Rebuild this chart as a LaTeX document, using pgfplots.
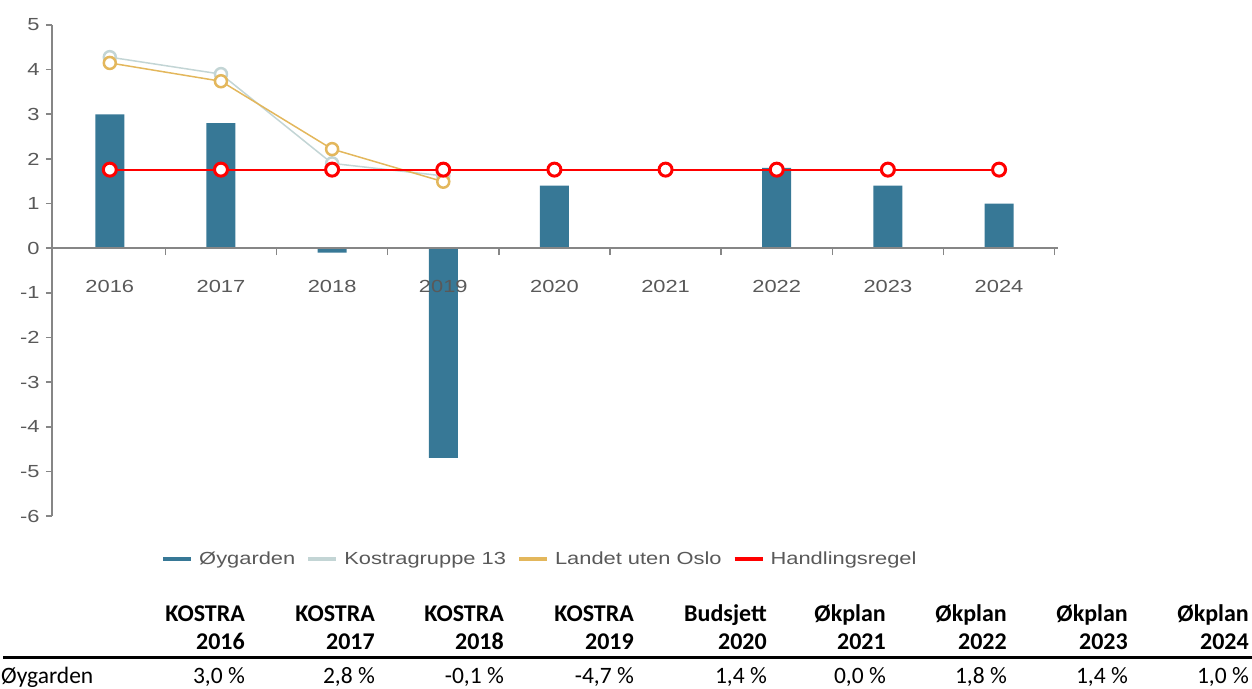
\documentclass[border=0pt]{standalone}
\usepackage{pgfplots}
\pgfplotsset{compat=1.18}
\usepackage{fontspec}
\setmainfont[FakeStretch=1.25]{Liberation Sans}
\newfontfamily\carlito{Carlito}
\definecolor{barc}{HTML}{377896}
\definecolor{kostc}{HTML}{C3D5D5}
\definecolor{landc}{HTML}{E3B75C}
\definecolor{hred}{HTML}{FF0000}
\definecolor{txt}{HTML}{595959}
\definecolor{axc}{HTML}{868686}
\begin{document}
\begin{tikzpicture}
\useasboundingbox (0bp,0bp) rectangle (1252bp,-689bp);
\begin{axis}[
  at={(52bp,-516bp)}, anchor=south west,
  scale only axis, width=1006bp, height=491bp,
  xmin=-0.52, xmax=8.53, ymin=-6, ymax=5,
  axis y line=left, axis x line=middle,
  axis line style={-, draw=axc, line width=1.6bp},
  axis on top,
  xtick={0,...,8},
  xticklabels={2016,2017,2018,2019,2020,2021,2022,2023,2024},
  minor xtick={0.5,1.5,...,8.5},
  major x tick style={draw=none},
  minor x tick style={draw=axc, line width=1.6bp},
  minor tick length=7bp,
  ytick={-6,...,5},
  major y tick style={draw=axc, line width=1.6bp},
  major tick length=6bp,
  tick align=outside,
  /pgf/number format/assume math mode=true,
  ticklabel style={font=\fontsize{17.5bp}{20bp}\selectfont, text=txt},
  xticklabel style={anchor=north, yshift=-23bp},
  yticklabel style={xshift=-3bp},
  clip=false,
  legend style={at={(axis description cs:0.485,-0.087)}, anchor=center,
    draw=none, fill=none, font=\fontsize{17.5bp}{20bp}\selectfont, text=txt,
    legend columns=-1,
    /tikz/every even column/.append style={column sep=9bp},
    /tikz/every odd column/.append style={column sep=4bp}},
]
\addplot[ybar, bar width=29bp, fill=barc, draw=none,
  legend image code/.code={\draw[draw=barc, line width=4bp] (0bp,0bp) -- (28bp,0bp);}]
  coordinates {(0,3.0) (1,2.8) (2,-0.1) (3,-4.7) (4,1.4) (5,0.0) (6,1.8) (7,1.4) (8,1.0)};
\addlegendentry{Øygarden}
\addplot[color=kostc, line width=1.5bp, mark=*, mark size=6bp,
  mark options={fill=white, draw=kostc, line width=2.5bp},
  legend image code/.code={\draw[draw=kostc, line width=4bp] (0bp,0bp) -- (28bp,0bp);}]
  coordinates {(0,4.28) (1,3.9) (2,1.9) (3,1.62)};
\addlegendentry{Kostragruppe 13}
\addplot[color=landc, line width=1.5bp, mark=*, mark size=6bp,
  mark options={fill=white, draw=landc, line width=2.5bp},
  legend image code/.code={\draw[draw=landc, line width=4bp] (0bp,0bp) -- (28bp,0bp);}]
  coordinates {(0,4.15) (1,3.74) (2,2.22) (3,1.49)};
\addlegendentry{Landet uten Oslo}
\addplot[color=hred, line width=1.8bp, mark=*, mark size=6.5bp,
  mark options={fill=white, draw=hred, line width=3bp},
  legend image code/.code={\draw[draw=hred, line width=4bp] (0bp,0bp) -- (28bp,0bp);}]
  coordinates {(0,1.76) (1,1.76) (2,1.76) (3,1.76) (4,1.76) (5,1.76) (6,1.76) (7,1.76) (8,1.76)};
\addlegendentry{Handlingsregel}
\end{axis}
% table below the chart
\begin{scope}[every node/.style={inner sep=0pt}]
\foreach \x/\a/\b in {245/KOSTRA/2016, 375/KOSTRA/2017, 504/KOSTRA/2018, 634/KOSTRA/2019, 767/Budsjett/2020, 886/Økplan/2021, 1007/Økplan/2022, 1128/Økplan/2023, 1249/Økplan/2024} {
  \node[anchor=base east, font=\carlito\bfseries\fontsize{24bp}{26bp}\selectfont] at (\x bp,-621bp) {\a};
  \node[anchor=base east, font=\carlito\bfseries\fontsize{24bp}{26bp}\selectfont] at (\x bp,-649bp) {\b};
}
\draw[line width=3bp] (3bp,-657.5bp) -- (1252bp,-657.5bp);
\node[anchor=base west, font=\carlito\fontsize{23.5bp}{26bp}\selectfont] at (1bp,-683bp) {Øygarden};
\foreach \x/\v in {245/{3,0 \%}, 375/{2,8 \%}, 504/{-0,1 \%}, 634/{-4,7 \%}, 767/{1,4 \%}, 886/{0,0 \%}, 1007/{1,8 \%}, 1128/{1,4 \%}, 1249/{1,0 \%}} {
  \node[anchor=base east, font=\carlito\fontsize{23.5bp}{26bp}\selectfont] at (\x bp,-683bp) {\v};
}
\end{scope}
\end{tikzpicture}
\end{document}
